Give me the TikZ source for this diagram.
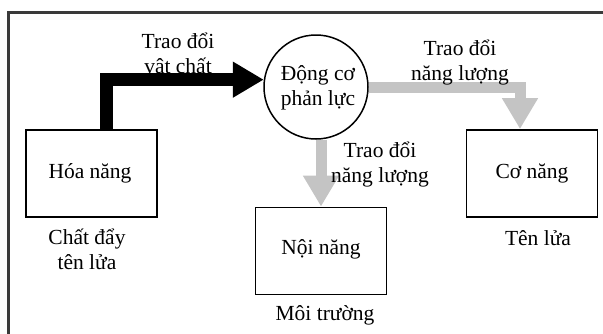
\documentclass[tikz,border=0pt]{standalone}
\usepackage{fontspec}
\setmainfont{Liberation Serif}
\usetikzlibrary{arrows.meta}
\definecolor{framegray}{HTML}{3A3A3A}
\definecolor{flowgray}{HTML}{C4C4C4}
\tikzset{
  box/.style={draw=black, line width=1.8pt, minimum width=131pt, minimum height=87pt, inner sep=0pt},
  txt/.style={font=\fontsize{21.5}{25}\selectfont, align=center, inner sep=0pt},
  matflow/.style={line width=13pt, draw=black, -{Triangle[length=31pt,width=34pt]}},
  enflow/.style={line width=11pt, draw=flowgray, -{Triangle[length=31pt,width=34pt]}},
}
\begin{document}
\begin{tikzpicture}[x=1pt,y=-1pt]
\useasboundingbox (0,0) rectangle (603,333);
\draw[framegray, line width=3pt] (8,345) -- (8,12) -- (615,12);
% nodes
\node[box] (hoa) at (91.5,173.5) {};
\node[box] (noi) at (321,251) {};
\node[box] (co) at (532,173.5) {};
\node[txt] (thoa) at (90,173) {Hóa năng};
\node[txt] (tnoi) at (321,249) {Nội năng};
\node[txt] (tco) at (532,173) {Cơ năng};
\node[circle, draw=black, line width=1.5pt, minimum size=104pt, inner sep=0pt, fill=white] (eng) at (316,87) {};
\node[txt] (teng) at (318,88) {Động cơ\\phản lực};
% connectors
\draw[matflow] ([xshift=15pt]hoa.north) |- (eng.172);
\draw[enflow] (eng.east) -| ([xshift=-12pt]co.north);
\draw[enflow] ([xshift=5pt]eng.south) -- (noi.north);
% labels
\node[txt] (lmat) at (178,55) {Trao đổi\\vật chất};
\node[txt] (len1) at (460,63) {Trao đổi\\năng lượng};
\node[txt] (len2) at (380,165) {Trao đổi\\năng lượng};
\node[txt] (lhoa) at (87,249) {Chất đẩy\\tên lửa};
\node[txt] (lnoi) at (325,315) {Môi trường};
\node[txt] (lco) at (538,238) {Tên lửa};
\end{tikzpicture}
\end{document}
